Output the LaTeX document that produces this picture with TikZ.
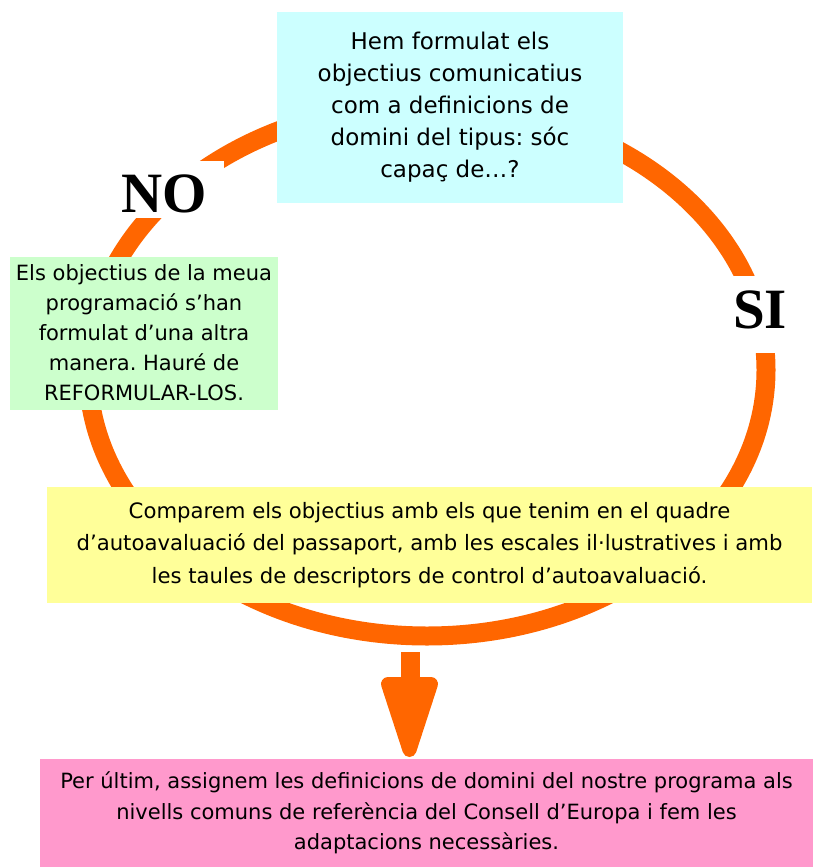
\documentclass[tikz,border=0pt]{standalone}
\usepackage{fontspec}
\setmainfont{DejaVu Sans}
\newfontfamily\answerfont{Liberation Serif}
\frenchspacing

\definecolor{ringorange}{HTML}{FF6600}
\definecolor{askcyan}{HTML}{CCFFFF}
\definecolor{nogreen}{HTML}{CCFFCC}
\definecolor{siyellow}{HTML}{FFFF99}
\definecolor{endpink}{HTML}{FF99CC}

\tikzset{
  stepbox/.style={inner sep=0pt, align=center},
  answer/.style={fill=white, inner xsep=17pt, inner ysep=0pt, anchor=base,
    font=\answerfont\bfseries\fontsize{57}{57}\selectfont},
}

\begin{document}
\begin{tikzpicture}[x=1pt,y=-1pt]
  \useasboundingbox (0,0) rectangle (813,867);

  % the cycle
  \draw[ringorange, line width=19pt] (427,370) ellipse [x radius=339pt, y radius=266pt];

  % arrow down to the last step
  \fill[ringorange] (400.5,652) rectangle (419.5,700);
  \filldraw[ringorange, line width=14pt, line join=round]
    (388,684) -- (431,684) -- (409.5,750) -- cycle;

  \node[stepbox, fill=askcyan, minimum width=346pt, minimum height=191pt,
    font=\fontsize{23}{32}\selectfont] (question) at (450,107.5)
    {Hem formulat els\\objectius comunicatius\\com a definicions de\\domini del tipus: sóc\\capaç de…?};

  \node[stepbox, fill=nogreen, minimum width=268pt, minimum height=153pt,
    font=\fontsize{21}{30}\selectfont] (reformulate) at (144,333)
    {Els objectius de la meua\\programació s’han\\formulat d’una altra\\manera. Hauré de\\REFORMULAR-LOS.};

  \node[stepbox, fill=siyellow, minimum width=765pt, minimum height=116pt,
    font=\fontsize{21.2}{32.5}\selectfont] (compare) at (429.5,545)
    {Comparem els objectius amb els que tenim en el quadre\\d’autoavaluació del passaport, amb les escales il·lustratives i amb\\les taules de descriptors de control d’autoavaluació.};

  \node[stepbox, fill=endpink, minimum width=773pt, minimum height=108pt,
    font=\fontsize{21}{30.5}\selectfont] (assign) at (426.5,813)
    {Per últim, assignem les definicions de domini del nostre programa als\\nivells comuns de referència del Consell d’Europa i fem les\\adaptacions necessàries.};

  \node[answer, text height=51pt, text depth=6pt] (no) at (164,212) {NO};
  \node[answer, text height=52pt, text depth=25pt] (si) at (760,328) {SI};
\end{tikzpicture}
\end{document}
